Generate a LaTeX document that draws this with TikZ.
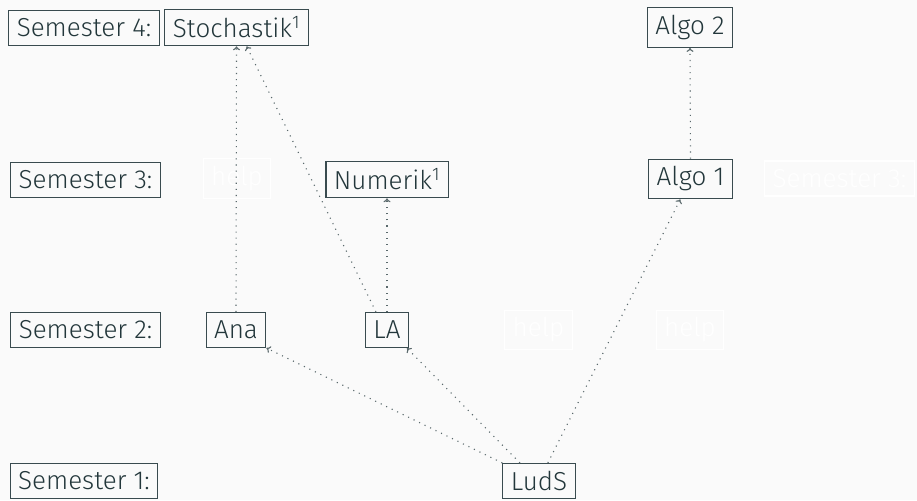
\documentclass[tikz,border=0pt]{standalone}
\usepackage{fontspec}
\setmainfont{Fira Sans Light}
\usetikzlibrary{calc,arrows.meta}
\definecolor{mteal}{HTML}{23373B}
\definecolor{mbg}{HTML}{FAFAFA}
\tikzset{
  box/.style={draw=mteal!90, line width=1.1pt, text=mteal, font=\fontsize{26}{30}\selectfont, inner xsep=8pt, inner ysep=7.5pt, minimum height=35pt, anchor=center},
  ghost/.style={box, draw=white, text=white},
  dep/.style={draw=mteal!75, line width=1.1pt, dash pattern={on 1.1pt off 5pt}, -{To[length=4pt,width=7pt]}},
}
\begin{document}
\begin{tikzpicture}[x=1pt,y=1pt]
\fill[mbg] (0,0) rectangle (917,500);
\useasboundingbox (0,0) rectangle (917,500);
% labels
\node[box] (s4) at (84,472) {Semester 4:};
\node[box] (s3) at (85.5,320) {Semester 3:};
\node[box] (s2) at (85.5,170) {Semester 2:};
\node[box] (s1) at (84,19) {Semester 1:};
% ghosts
\node[ghost] (h1) at (237,321.5) {help};
\node[ghost] (h2) at (538.5,170) {help};
\node[ghost] (h3) at (690,170) {help};
\node[ghost,anchor=west] (s3b) at (764,321.5) {Semester 3:};
% courses
\node[box] (st) at (236.5,472.5) {Stochastik\textsuperscript{1}};
\node[box] (a2) at (690,472.5) {Algo 2};
\node[box] (nu) at (387,320.5) {Numerik\textsuperscript{1}};
\node[box] (a1) at (690.5,321) {Algo 1};
\node[box] (an) at (236,170) {Ana};
\node[box] (la) at (387,170) {LA};
\node[box] (ld) at (539,19) {LudS};
% dependencies
\draw[dep] (an.north) -- (st.south);
\draw[dep] ($(la.north west)!0.25!(la.north east)$) -- ($(st.south west)!0.57!(st.south east)$);
\draw[dep] (la.north) -- (nu.south);
\draw[dep] (ld.north west) -- (an.south east);
\draw[dep] ($(ld.north west)!0.24!(ld.north east)$) -- ($(la.south west)!0.95!(la.south east)$);
\draw[dep] ($(ld.north west)!0.62!(ld.north east)$) -- ($(a1.south west)!0.38!(a1.south east)$);
\draw[dep] (a1.north) -- (a2.south);
\end{tikzpicture}
\end{document}
